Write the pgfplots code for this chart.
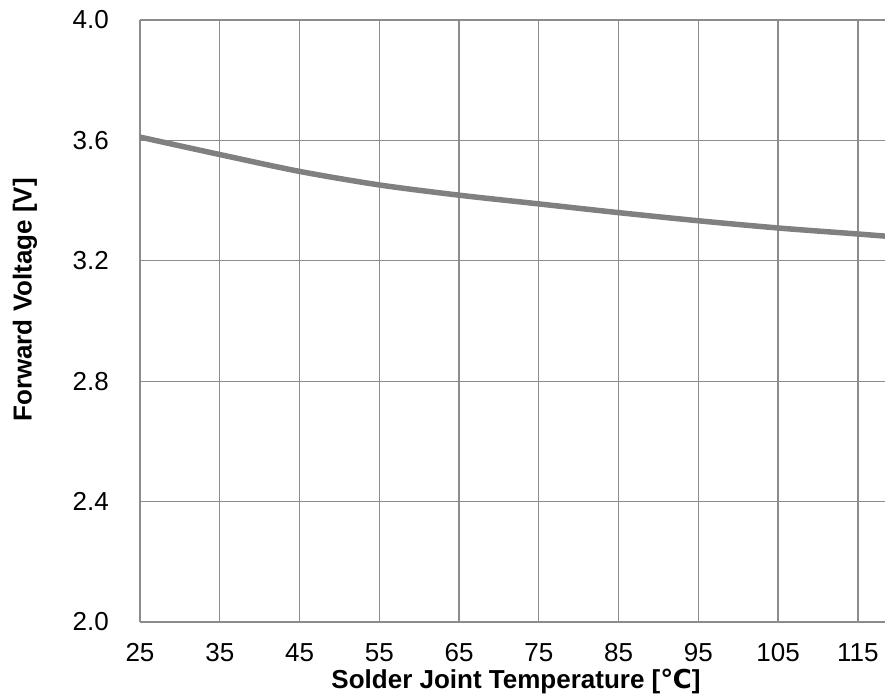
\documentclass[border=0pt]{standalone}
\usepackage{fontspec}
\setmainfont{Liberation Sans}
\newfontfamily\symfont{DejaVu Sans}
\usepackage{pgfplots}
\pgfplotsset{compat=1.18}
\definecolor{gridgray}{HTML}{8C8C8C}
\definecolor{curvegray}{HTML}{808080}
\begin{document}
\begin{tikzpicture}
  \useasboundingbox (-140pt,-78pt) rectangle (745pt,622pt);
  \begin{axis}[
    at={(0,0)}, anchor=south west,
    scale only axis,
    width=745pt, height=602pt,
    xmin=25, xmax=118.4,
    ymin=2.0, ymax=4.0,
    xtick={25,35,...,115},
    ytick={2.0,2.4,2.8,3.2,3.6,4.0},
    /pgf/number format/assume math mode=true,
    axis lines*=left,
    axis line style={gridgray, line width=1.3pt},
    grid=major,
    major grid style={gridgray, line width=1.3pt},
    major tick length=0pt,
    tick style={draw=none},
    ticklabel style={font=\fontsize{26}{30}\selectfont, text=black},
    xticklabel style={anchor=center, yshift=-31pt},
    yticklabel style={anchor=east, inner sep=0pt, xshift=-31pt,
      /pgf/number format/fixed, /pgf/number format/fixed zerofill,
      /pgf/number format/precision=1},
    xlabel={\textbf{Solder Joint Temperature [{\symfont ℃}]}},
    ylabel={\textbf{Forward Voltage [V]}},
    label style={font=\fontsize{26}{30}\selectfont},
    xlabel style={at={(axis description cs:0.5047,-0.098)}, anchor=center},
    ylabel style={at={(axis description cs:-0.1544,0.535)}, anchor=center},
  ]
    \addplot[curvegray, line width=5.5pt, smooth] coordinates {
      (25,3.611) (35,3.553) (45,3.497) (55,3.452) (65,3.418)
      (75,3.389) (85,3.360) (95,3.333) (105,3.309) (115,3.289)
      (118.4,3.282)
    };
  \end{axis}
\end{tikzpicture}
\end{document}
